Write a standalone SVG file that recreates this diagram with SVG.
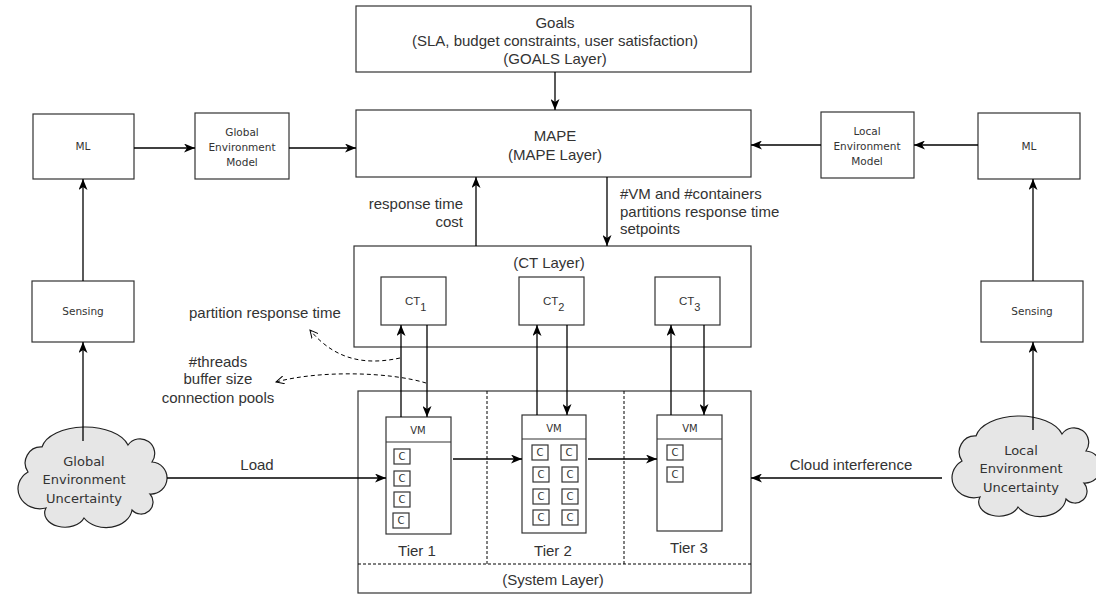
<svg xmlns="http://www.w3.org/2000/svg" width="1096" height="595" viewBox="0 0 1096 595">
<style>
.box{fill:#fff;stroke:#333;stroke-width:1.2}
.t{font-family:"Liberation Sans",Arial,sans-serif;font-size:15px;fill:#333}
.s{font-family:"DejaVu Sans",Verdana,sans-serif;font-size:10.5px;fill:#333}
.ct{font-family:"Liberation Sans",Arial,sans-serif;font-size:11.5px;fill:#333}
.c{font-family:"DejaVu Sans",Verdana,sans-serif;font-size:10px;fill:#333}
.cl{font-family:"DejaVu Sans",Verdana,sans-serif;font-size:13px;fill:#333}
.a{fill:none;stroke:#000;stroke-width:1.3}
.d{fill:none;stroke:#000;stroke-width:1;stroke-dasharray:4 3}
.cloud{fill:#e6e6e6;stroke:#222;stroke-width:1.2}
</style>
<defs>
<marker id="ah" markerWidth="11" markerHeight="9" refX="11" refY="4.5" orient="auto" markerUnits="userSpaceOnUse"><path d="M0,0 L11,4.5 L0,9 L3,4.5 Z" fill="#000"/></marker>
<marker id="oh" markerWidth="9" markerHeight="9" refX="8" refY="4.5" orient="auto" markerUnits="userSpaceOnUse"><path d="M0,0.5 L8,4.5 L0,8.5" fill="none" stroke="#000" stroke-width="1"/></marker>
<path id="cloudShape" d="M28 472 A16 16 0 0 1 42 447 A44 24 0 0 1 128 445 A14 14 0 0 1 152 462 A15 15 0 0 1 150 494 A12 12 0 0 1 132 510 A26 20 0 0 1 84 518 A20 14 0 0 1 46 508 A22 20 0 0 1 28 472 Z"/>
</defs>
<rect width="1096" height="595" fill="#fff"/>

<g id="goals"><rect class="box" x="356" y="6" width="395" height="66"/>
<text class="t" text-anchor="middle" x="555" y="28">Goals</text>
<text class="t" text-anchor="middle" x="555" y="45.5">(SLA, budget constraints, user satisfaction)</text>
<text class="t" text-anchor="middle" x="555" y="63.5">(GOALS Layer)</text></g>

<g id="mape"><rect class="box" x="356" y="110" width="395" height="67"/>
<text class="t" text-anchor="middle" x="555" y="140.5">MAPE</text>
<text class="t" text-anchor="middle" x="555" y="159.5">(MAPE Layer)</text></g>

<g id="ml-left"><rect class="box" x="33" y="114" width="101" height="65"/><text class="s" text-anchor="middle" x="83" y="150">ML</text></g>
<g id="gem"><rect class="box" x="195" y="113" width="94" height="66"/>
<text class="s" text-anchor="middle" x="242" y="136">Global</text>
<text class="s" text-anchor="middle" x="242" y="151">Environment</text>
<text class="s" text-anchor="middle" x="242" y="166">Model</text></g>
<g id="sensing-left"><rect class="box" x="32" y="281" width="102" height="61"/><text class="s" text-anchor="middle" x="83" y="315">Sensing</text></g>

<g id="lem"><rect class="box" x="821" y="112" width="93" height="66"/>
<text class="s" text-anchor="middle" x="867" y="135">Local</text>
<text class="s" text-anchor="middle" x="867" y="150">Environment</text>
<text class="s" text-anchor="middle" x="867" y="165">Model</text></g>
<g id="ml-right"><rect class="box" x="978" y="113" width="102" height="66"/><text class="s" text-anchor="middle" x="1029" y="150">ML</text></g>
<g id="sensing-right"><rect class="box" x="981" y="281" width="102" height="61"/><text class="s" text-anchor="middle" x="1032" y="315">Sensing</text></g>

<g id="ct-layer"><rect class="box" x="354" y="246" width="397" height="101"/>
<text class="t" text-anchor="middle" x="549" y="267.5">(CT Layer)</text></g>
<g id="ct1"><rect class="box" x="381" y="277" width="65" height="48"/><text class="ct" x="405" y="305">CT<tspan font-size="11" dy="6">1</tspan></text></g>
<g id="ct2"><rect class="box" x="519" y="277" width="65" height="48"/><text class="ct" x="543" y="305">CT<tspan font-size="11" dy="6">2</tspan></text></g>
<g id="ct3"><rect class="box" x="655" y="277" width="65" height="48"/><text class="ct" x="679" y="305">CT<tspan font-size="11" dy="6">3</tspan></text></g>

<g id="system-layer"><rect class="box" x="358" y="391" width="393" height="202"/>
<line class="d" x1="358" y1="564" x2="751" y2="564" style="stroke-dasharray:3 2"/>
<line class="d" x1="487" y1="391" x2="487" y2="564" style="stroke-dasharray:3 2"/>
<line class="d" x1="624" y1="391" x2="624" y2="564" style="stroke-dasharray:3 2"/>
<text class="t" text-anchor="middle" x="553" y="584.5">(System Layer)</text>
<text class="t" text-anchor="middle" x="417" y="555.5">Tier 1</text>
<text class="t" text-anchor="middle" x="553" y="555.5">Tier 2</text>
<text class="t" text-anchor="middle" x="689" y="552.5">Tier 3</text></g>

<g id="tier1-vm"><rect class="box" x="386" y="417" width="65" height="117"/><line stroke="#333" stroke-width="1.2" x1="386" y1="442" x2="451" y2="442"/>
<text class="c" text-anchor="middle" x="418" y="434">VM</text>
<rect class="box" x="394" y="449" width="16" height="15"/><text class="c" text-anchor="middle" x="402" y="460">C</text>
<rect class="box" x="394" y="471" width="16" height="15"/><text class="c" text-anchor="middle" x="402" y="482">C</text>
<rect class="box" x="394" y="492" width="16" height="15"/><text class="c" text-anchor="middle" x="402" y="503">C</text>
<rect class="box" x="393" y="513" width="16" height="15"/><text class="c" text-anchor="middle" x="401" y="524">C</text></g>

<g id="tier2-vm"><rect class="box" x="522" y="415" width="64" height="118"/><line stroke="#333" stroke-width="1.2" x1="522" y1="439" x2="586" y2="439"/>
<text class="c" text-anchor="middle" x="554" y="432">VM</text>
<rect class="box" x="532" y="445" width="16" height="15"/><text class="c" text-anchor="middle" x="540" y="456">C</text>
<rect class="box" x="561" y="445" width="16" height="15"/><text class="c" text-anchor="middle" x="569" y="456">C</text>
<rect class="box" x="533" y="467" width="16" height="15"/><text class="c" text-anchor="middle" x="541" y="478">C</text>
<rect class="box" x="562" y="467" width="16" height="15"/><text class="c" text-anchor="middle" x="570" y="478">C</text>
<rect class="box" x="533" y="489" width="16" height="15"/><text class="c" text-anchor="middle" x="541" y="500">C</text>
<rect class="box" x="562" y="489" width="16" height="15"/><text class="c" text-anchor="middle" x="570" y="500">C</text>
<rect class="box" x="533" y="510" width="16" height="15"/><text class="c" text-anchor="middle" x="541" y="521">C</text>
<rect class="box" x="562" y="510" width="16" height="15"/><text class="c" text-anchor="middle" x="570" y="521">C</text></g>

<g id="tier3-vm"><rect class="box" x="657" y="415" width="65" height="116"/><line stroke="#333" stroke-width="1.2" x1="657" y1="439" x2="722" y2="439"/>
<text class="c" text-anchor="middle" x="690" y="432">VM</text>
<rect class="box" x="667" y="445" width="16" height="15"/><text class="c" text-anchor="middle" x="675" y="456">C</text>
<rect class="box" x="667" y="467" width="16" height="15"/><text class="c" text-anchor="middle" x="675" y="478">C</text></g>

<g id="cloud-global"><use href="#cloudShape" class="cloud"/>
<text class="cl" text-anchor="middle" x="84" y="466">Global</text>
<text class="cl" text-anchor="middle" x="84" y="484">Environment</text>
<text class="cl" text-anchor="middle" x="84" y="503">Uncertainty</text></g>

<g id="cloud-local"><use href="#cloudShape" class="cloud" transform="translate(934,-11)"/>
<text class="cl" text-anchor="middle" x="1021" y="455">Local</text>
<text class="cl" text-anchor="middle" x="1021" y="473">Environment</text>
<text class="cl" text-anchor="middle" x="1021" y="492">Uncertainty</text></g>

<g id="connectors">
<line class="a" x1="555" y1="72" x2="555" y2="110" marker-end="url(#ah)"/>
<line class="a" x1="134" y1="148" x2="195" y2="148" marker-end="url(#ah)"/>
<line class="a" x1="289" y1="148" x2="356" y2="148" marker-end="url(#ah)"/>
<line class="a" x1="978" y1="145" x2="914" y2="145" marker-end="url(#ah)"/>
<line class="a" x1="821" y1="145" x2="751" y2="145" marker-end="url(#ah)"/>
<line class="a" x1="83" y1="281" x2="83" y2="179" marker-end="url(#ah)"/>
<line class="a" x1="1033" y1="281" x2="1033" y2="179" marker-end="url(#ah)"/>
<line class="a" x1="83" y1="441" x2="83" y2="342" marker-end="url(#ah)"/>
<line class="a" x1="1033" y1="430" x2="1033" y2="342" marker-end="url(#ah)"/>
<line class="a" x1="476" y1="246" x2="476" y2="177" marker-end="url(#ah)"/>
<line class="a" x1="607" y1="177" x2="607" y2="246" marker-end="url(#ah)"/>
<line class="a" x1="401" y1="417" x2="401" y2="325" marker-end="url(#ah)"/>
<line class="a" x1="427" y1="325" x2="427" y2="417" marker-end="url(#ah)" stroke="#444"/>
<line class="a" x1="537" y1="415" x2="537" y2="325" marker-end="url(#ah)"/>
<line class="a" x1="567" y1="325" x2="567" y2="415" marker-end="url(#ah)" stroke="#444"/>
<line class="a" x1="671" y1="415" x2="671" y2="325" marker-end="url(#ah)"/>
<line class="a" x1="704" y1="325" x2="704" y2="415" marker-end="url(#ah)" stroke="#444"/>
<line class="a" x1="167" y1="478" x2="386" y2="478" marker-end="url(#ah)"/>
<line class="a" x1="942" y1="478" x2="751" y2="478" marker-end="url(#ah)"/>
<line class="a" x1="453" y1="459" x2="522" y2="459" marker-end="url(#ah)"/>
<line class="a" x1="588" y1="459" x2="657" y2="459" marker-end="url(#ah)"/>
<path class="d" d="M400 358 C372 364 338 364 310 330" marker-end="url(#oh)"/>
<path class="d" d="M426 383 C390 372 320 370 276 382" marker-end="url(#oh)"/>
</g>

<g id="labels">
<text class="t" text-anchor="end" x="463" y="208.5">response time</text>
<text class="t" text-anchor="end" x="463" y="226.5">cost</text>
<text class="t" x="620" y="198.5">#VM and #containers</text>
<text class="t" x="620" y="216.5">partitions response time</text>
<text class="t" x="620" y="233.5">setpoints</text>
<text class="t" x="189" y="317.5">partition response time</text>
<text class="t" text-anchor="middle" x="218" y="366.5">#threads</text>
<text class="t" text-anchor="middle" x="218" y="383.5">buffer size</text>
<text class="t" text-anchor="middle" x="218" y="402.5">connection pools</text>
<text class="t" text-anchor="middle" x="257" y="470">Load</text>
<text class="t" text-anchor="middle" x="851" y="470">Cloud interference</text>
</g>
</svg>
